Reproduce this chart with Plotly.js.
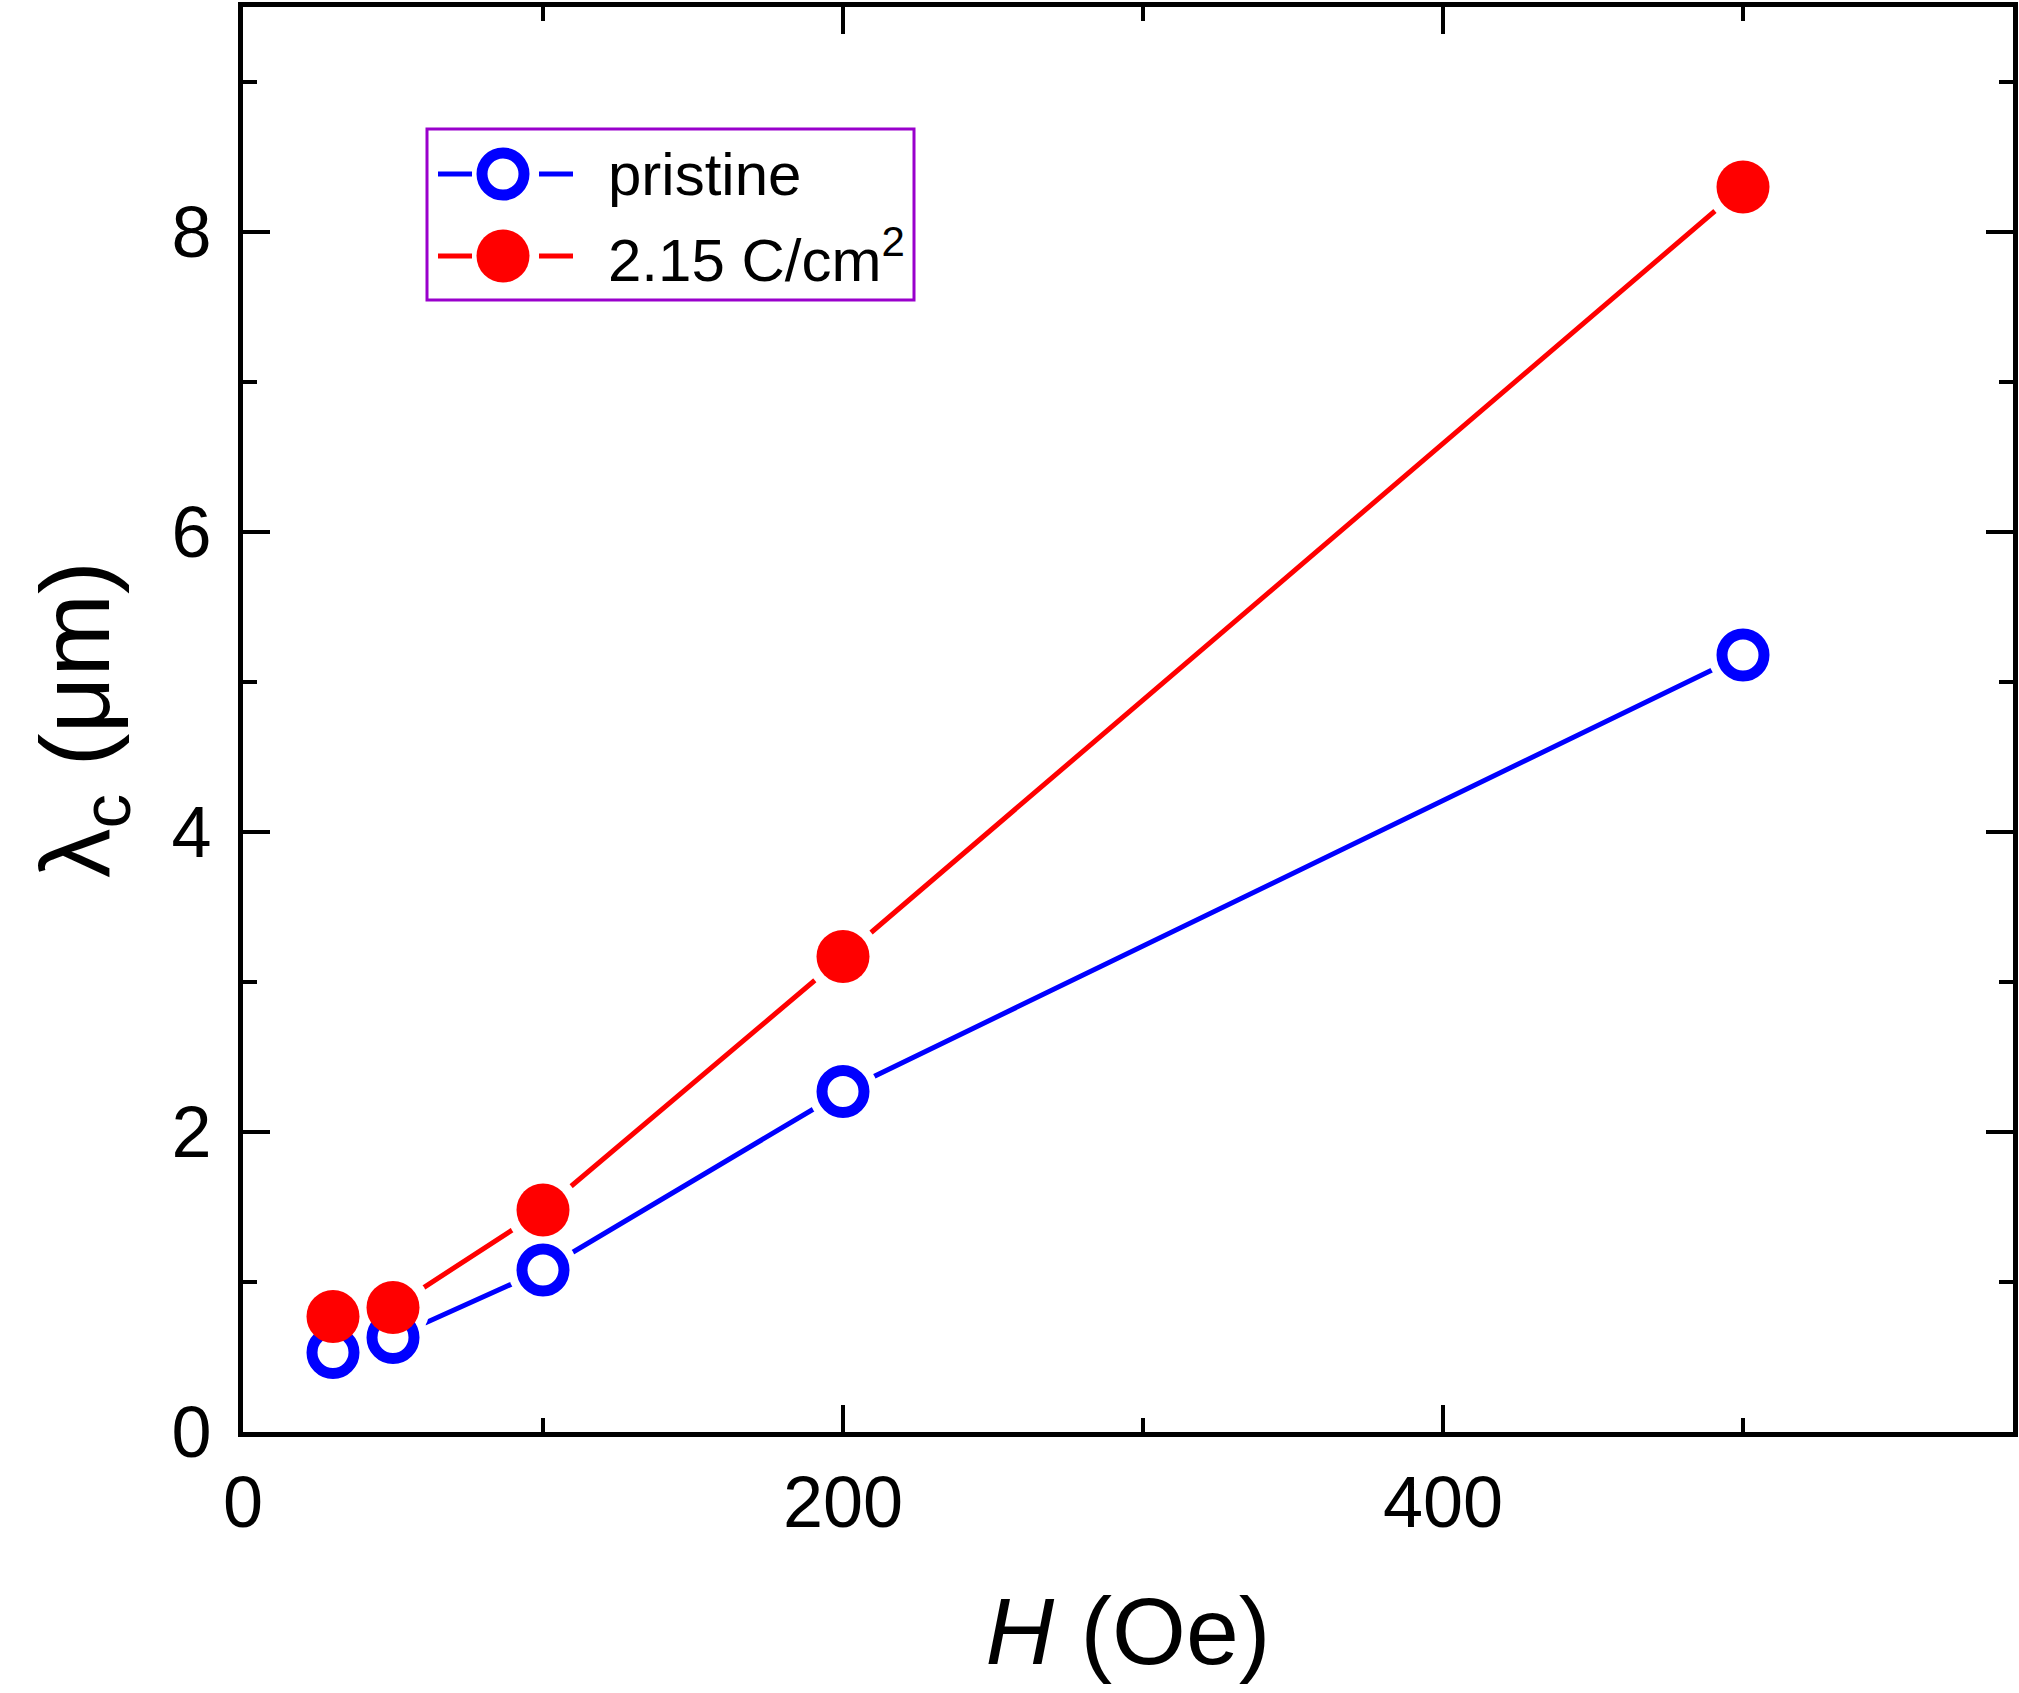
<!DOCTYPE html>
<html>
<head>
<meta charset="utf-8">
<script src="https://cdn.plot.ly/plotly-3.0.1.min.js"></script>
<style>
  html, body { margin: 0; padding: 0; background: #fff; }
  #graph { width: 2019px; height: 1693px; }
</style>
</head>
<body>
<div id="graph"></div>
<script>
// field H (Oe) and penetration depth lambda_c (um)
var fieldH = [30, 50, 100, 200, 500];
var lambdaPristine = [0.53, 0.63, 1.08, 2.27, 5.18];
var lambdaIrrad = [0.77, 0.83, 1.48, 3.17, 8.30];

var seriesNames = ['pristine', '2.15 C/cm<sup>2</sup>'];
var xTickVals = [0, 200, 400];
var yTickVals = [0, 2, 4, 6, 8];

var W = 2019, H = 1693;
var M = {l: 243, r: 6, t: 7, b: 261};
var FONT = 'Liberation Sans, Arial, sans-serif';

// pixel -> paper helpers for the hand-made legend box
function px(x) { return (x - M.l) / (W - M.l - M.r); }
function py(y) { return (H - M.b - y) / (H - M.t - M.b); }

var traces = [
  // lines first
  {x: fieldH, y: lambdaPristine, mode: 'lines', line: {color: '#0000ff', width: 5}, hoverinfo: 'skip'},
  {x: fieldH, y: lambdaIrrad, mode: 'lines', line: {color: '#ff0000', width: 5}, hoverinfo: 'skip'},
  // white discs, give the Origin style gap round each symbol
  {x: fieldH, y: lambdaPristine, mode: 'markers', marker: {color: '#fff', size: 70}, hoverinfo: 'skip'},
  {x: fieldH, y: lambdaIrrad, mode: 'markers', marker: {color: '#fff', size: 74}, hoverinfo: 'skip'},
  // the symbols
  {x: fieldH, y: lambdaPristine, mode: 'markers', name: seriesNames[0],
   marker: {symbol: 'circle', color: '#fff', size: 42, line: {color: '#0000ff', width: 11}}},
  {x: fieldH, y: lambdaIrrad, mode: 'markers', name: seriesNames[1],
   marker: {symbol: 'circle', color: '#ff0000', size: 53, line: {width: 0}}}
];

var axisCommon = {
  showline: true, linecolor: '#000', linewidth: 5, mirror: 'ticks',
  ticks: 'inside', ticklen: 27, tickwidth: 4, tickcolor: '#000',
  showgrid: false, zeroline: false,
  tickfont: {family: FONT, size: 72, color: '#000'}
};

var rows = [174, 256];
var shapes = [
  {type: 'rect', xref: 'paper', yref: 'paper', x0: px(427), x1: px(914), y0: py(300), y1: py(129),
   line: {color: '#9900cc', width: 3}, fillcolor: 'rgba(0,0,0,0)'}
];
var annotations = [];
var legCol = ['#0000ff', '#ff0000'];
rows.forEach(function(r, i) {
  shapes.push({type: 'line', xref: 'paper', yref: 'paper', x0: px(438), x1: px(472), y0: py(r), y1: py(r),
    line: {color: legCol[i], width: 5}});
  shapes.push({type: 'line', xref: 'paper', yref: 'paper', x0: px(539), x1: px(573), y0: py(r), y1: py(r),
    line: {color: legCol[i], width: 5}});
  var d = i === 0 ? 42 : 53;
  shapes.push({type: 'circle', xref: 'paper', yref: 'paper', xsizemode: 'pixel', ysizemode: 'pixel',
    xanchor: px(503), yanchor: py(r), x0: -d / 2, x1: d / 2, y0: -d / 2, y1: d / 2,
    fillcolor: i === 0 ? '#fff' : '#ff0000',
    line: {color: legCol[i], width: i === 0 ? 11 : 0}});
  annotations.push({xref: 'paper', yref: 'paper', x: px(606), y: py(r), xanchor: 'left', yanchor: 'middle',
    showarrow: false, text: seriesNames[i], font: {family: FONT, size: 60, color: '#000'}});
});

var layout = {
  width: W, height: H,
  margin: M,
  paper_bgcolor: '#fff', plot_bgcolor: '#fff',
  showlegend: false,
  font: {family: FONT, color: '#000'},
  xaxis: Object.assign({}, axisCommon, {
    range: [0, 590], tickvals: xTickVals, automargin: 'bottom', ticklabelstandoff: 4,
    minor: {dtick: 100, tick0: 0, ticks: 'inside', ticklen: 14, tickwidth: 4, tickcolor: '#000', showgrid: false},
    title: {text: '<i>H</i> (Oe)', font: {family: FONT, size: 95, color: '#000'}, standoff: 58}
  }),
  yaxis: Object.assign({}, axisCommon, {
    range: [0, 9.5], tickvals: yTickVals, automargin: 'left', ticklabelstandoff: 12,
    minor: {dtick: 1, tick0: 0, ticks: 'inside', ticklen: 14, tickwidth: 4, tickcolor: '#000', showgrid: false},
    title: {text: '\u03bb<sub>c</sub> (\u03bcm)', font: {family: FONT, size: 99, color: '#000'}, standoff: 30}
  }),
  shapes: shapes,
  annotations: annotations
};

Plotly.newPlot('graph', traces, layout, {displayModeBar: false, staticPlot: true});
</script>
</body>
</html>
